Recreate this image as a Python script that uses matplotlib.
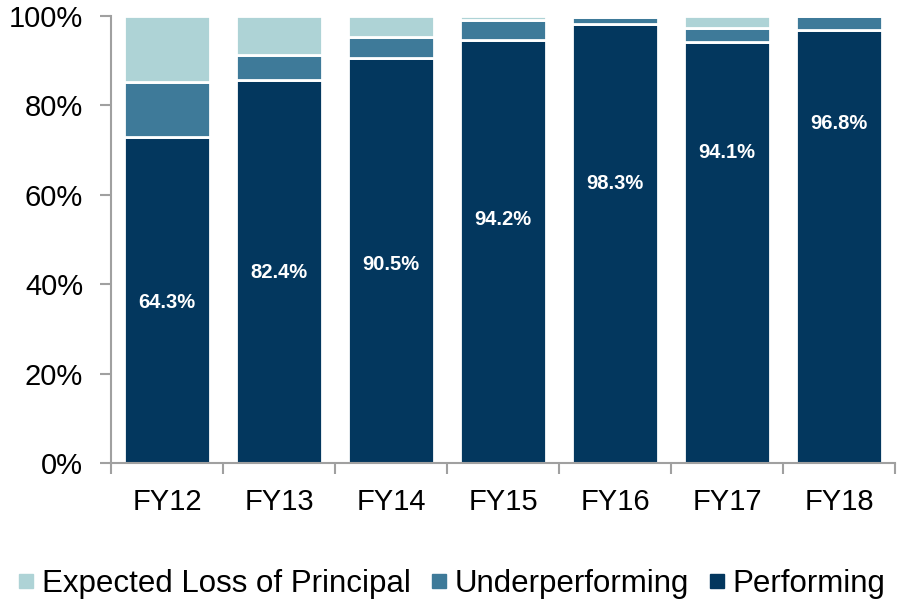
import numpy as np
import matplotlib.pyplot as plt
from matplotlib.lines import Line2D

plt.rcParams['font.family'] = ['Liberation Sans', 'DejaVu Sans']

years = ['FY12', 'FY13', 'FY14', 'FY15', 'FY16', 'FY17', 'FY18']
performing = [72.9, 85.6, 90.5, 94.6, 98.3, 94.1, 96.8]
underperforming = [12.4, 5.7, 4.8, 4.4, 1.5, 3.3, 3.2]
expected_loss = [14.7, 8.7, 4.7, 1.0, 0.2, 2.6, 0.0]
perf_labels = ['64.3%', '82.4%', '90.5%', '94.2%', '98.3%', '94.1%', '96.8%']
label_y = [36, 42.5, 44.5, 54.5, 62.5, 69.5, 76]

c_elp = '#aed3d6'
c_under = '#3e7a99'
c_perf = '#03375e'

fig = plt.figure(figsize=(8.99, 6.05), dpi=100)
ax = fig.add_axes([0.1235, 0.2347, 0.872, 0.739])

x = np.arange(len(years))
w = 0.76
perf = np.array(performing)
under = np.array(underperforming)
elp = np.array(expected_loss)
ax.bar(x, perf, w, color=c_perf, edgecolor='white', linewidth=2)
ax.bar(x, under, w, bottom=perf, color=c_under, edgecolor='white', linewidth=2)
ax.bar(x, elp, w, bottom=perf + under, color=c_elp, edgecolor='white', linewidth=2)

for i, t in enumerate(perf_labels):
    ax.text(x[i], label_y[i], t, ha='center', va='center', color='white',
            fontsize=14.5, fontweight='bold')

ax.set_xlim(-0.5, len(years) - 0.5)
ax.set_ylim(0, 100)
ax.set_yticks(range(0, 101, 20))
ax.set_yticklabels(['%d%%' % v for v in range(0, 101, 20)], fontsize=21)

ax.set_xticks(x)
ax.set_xticklabels(years, fontsize=21)
ax.set_xticks(np.arange(-0.5, len(years), 1), minor=True)
ax.tick_params(axis='x', which='major', length=0, pad=18)
ax.tick_params(axis='x', which='minor', length=8, color='#a0a0a0', width=1.5)
ax.tick_params(axis='y', length=8, color='#a0a0a0', width=1.5, pad=12)

for s in ['top', 'right']:
    ax.spines[s].set_visible(False)
for s in ['left', 'bottom']:
    ax.spines[s].set_color('#a0a0a0')
    ax.spines[s].set_linewidth(1.5)

handles = [Line2D([], [], marker='s', linestyle='none', markersize=10, color=c)
           for c in [c_elp, c_under, c_perf]]
fig.legend(handles, ['Expected Loss of Principal', 'Underperforming', 'Performing'],
           loc='lower center', bbox_to_anchor=(0.5, -0.036), ncol=3, frameon=False,
           fontsize=22.5, handletextpad=0.1, columnspacing=0.5, handlelength=0.8)

fig.savefig('out.png', dpi=100)
